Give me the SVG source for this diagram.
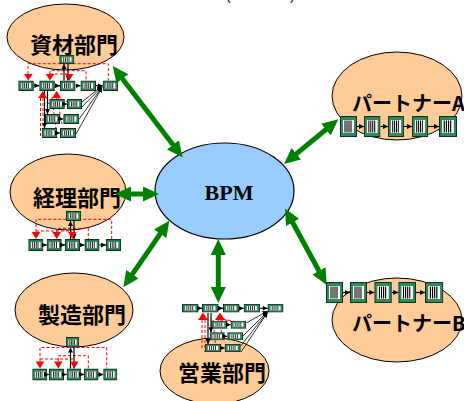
<svg xmlns="http://www.w3.org/2000/svg" xmlns:xlink="http://www.w3.org/1999/xlink" width="464" height="401" viewBox="0 0 464 401">
<style>
.dept{fill:#FFCC99;stroke:#000;stroke-width:1}
.bpm{fill:#99CCFF;stroke:#000;stroke-width:1.2}
.jt{font-family:"Noto Sans CJK JP","Noto Sans CJK SC",sans-serif;font-weight:bold;font-size:22px;fill:#000}
.pt{font-size:20px}
.bt{font-family:"Liberation Serif",serif;font-weight:bold;font-size:22px;fill:#000}
.k{stroke:#000;stroke-width:1.2;fill:none}
.kf{stroke:#000;stroke-width:0.8;fill:none}
.rd{stroke:#FF0000;stroke-width:1;stroke-dasharray:3,2;fill:none}
.rh{fill:#FF0000}
.g{stroke:#008000;stroke-width:5;fill:none}
</style>
<defs>
<symbol id="b" viewBox="0 0 16 10" preserveAspectRatio="none">
<rect x="0.5" y="0.5" width="15" height="9" fill="#2d8a5a" stroke="#0f2e1e"/>
<rect x="3" y="2.5" width="10" height="5" fill="#fff"/>
<path d="M4.7 2.5v5M6.6 2.5v5M8.5 2.5v5M10.4 2.5v5" stroke="#000" stroke-width="0.9"/>
</symbol>
<symbol id="bp" viewBox="0 0 17 21" preserveAspectRatio="none">
<rect x="0.5" y="0.5" width="16" height="20" fill="#2d8a5a" stroke="#0f2e1e"/>
<rect x="3" y="4" width="11" height="13" fill="#fff"/>
<path d="M5 4.5v12M7 4.5v12M9 4.5v12M11 4.5v12" stroke="#000" stroke-width="1.1"/>
</symbol>
<marker id="ka" viewBox="0 0 5 5" refX="5" refY="2.5" markerWidth="5" markerHeight="5" markerUnits="userSpaceOnUse" orient="auto"><path d="M0,0 L5,2.5 L0,5 z" fill="#000"/></marker>
<marker id="g" viewBox="0 0 16 15" refX="6" refY="7.5" markerWidth="16" markerHeight="15" markerUnits="userSpaceOnUse" orient="auto-start-reverse"><path d="M0,0 L16,7.5 L0,15 z" fill="#008000"/></marker>
</defs>

<text x="226" y="0" font-family="Liberation Sans, sans-serif" font-size="14">(<tspan x="290">)</tspan></text>

<g id="bpm">
<ellipse class="bpm" cx="224.5" cy="191" rx="69.5" ry="48"/>
<text class="bt" x="229" y="200" text-anchor="middle">BPM</text>
</g>

<g id="shizai">
<ellipse class="dept" cx="65.5" cy="37" rx="58.5" ry="33"/>
<text class="jt" x="30" y="53">資材部門</text>
<path class="rd" d="M28,74 V63.7 H108.3 V80.5"/>
<path class="rd" d="M50,74 V70.7 H86 V80.5"/>
<path class="rd" d="M50,74 H69.3"/>
<path class="rd" d="M40.5,98 V138 M43,98 V128 M56.7,97 L72,104 M56.7,97 L62,124 M52,97 L57,138 M47,98 L49,104"/>
<use href="#b" x="59.3" y="55" width="15" height="9"/>
<use href="#b" x="18.3" y="80.5" width="15.5" height="10.5"/>
<use href="#b" x="39.3" y="80.5" width="15.5" height="10.5"/>
<use href="#b" x="60" y="80.5" width="15.5" height="10.5"/>
<use href="#b" x="80.5" y="80.5" width="15.5" height="10.5"/>
<use href="#b" x="102.7" y="80.5" width="15.5" height="10.5"/>
<use href="#b" x="49.3" y="99" width="15.5" height="10"/>
<use href="#b" x="67" y="99" width="15" height="10"/>
<use href="#b" x="45" y="114" width="15" height="10"/>
<use href="#b" x="63.3" y="114" width="16" height="10"/>
<use href="#b" x="41.7" y="128" width="15.5" height="10"/>
<use href="#b" x="60" y="128" width="16" height="10"/>
<path class="k" marker-end="url(#ka)" d="M33.8,85.7 H39.3"/>
<path class="k" marker-end="url(#ka)" d="M54.8,85.7 H60"/>
<path class="k" marker-end="url(#ka)" d="M75.5,85.7 H80.5"/>
<path class="k" marker-end="url(#ka)" d="M96,85.7 H102.7"/>
<path class="k" marker-end="url(#ka)" d="M64,80.5 V64"/>
<path class="k" marker-end="url(#ka)" d="M68,64 V80.5"/>
<path class="k" marker-end="url(#ka)" d="M44.5,91 V128"/>
<path class="k" marker-end="url(#ka)" d="M47.5,91 V114"/>
<path class="kf" marker-end="url(#ka)" d="M64.8,104 H67"/>
<path class="kf" marker-end="url(#ka)" d="M60,119 H63.3"/>
<path class="kf" marker-end="url(#ka)" d="M57.2,133 H60"/>
<path class="kf" marker-end="url(#ka)" d="M82,102 L102,86"/>
<path class="kf" marker-end="url(#ka)" d="M82,107 L102,86.5"/>
<path class="kf" marker-end="url(#ka)" d="M79.3,119 L102,87"/>
<path class="kf" marker-end="url(#ka)" d="M76,134 L102,87.5"/>
<path class="rh" d="M24,74 h8.6 l-4.3,6.5 z M45.7,74 h8.6 l-4.3,6.5 z M65,74 h8.6 l-4.3,6.5 z"/>
<path class="rh" d="M38.2,98 h9 l-4.5,-7 z M52.2,98 h9 l-4.5,-7 z"/>
</g>

<g id="keiri">
<ellipse class="dept" cx="68" cy="192" rx="58" ry="38"/>
<text class="jt" x="33" y="206">経理部門</text>
<path class="rd" d="M36,232 V219.3 H111.7 V239"/>
<path class="rd" d="M56.7,232 V228.3 H88.3 V239"/>
<path class="rd" d="M36,231 H72.3"/>
<use href="#b" x="66" y="211" width="15" height="10"/>
<use href="#b" x="28.3" y="239" width="15" height="12"/>
<use href="#b" x="46.7" y="239" width="15" height="12"/>
<use href="#b" x="65" y="239" width="15" height="12"/>
<use href="#b" x="84.5" y="239" width="15" height="12"/>
<use href="#b" x="106" y="239" width="15" height="12"/>
<path class="k" marker-end="url(#ka)" d="M43.3,245 H46.7"/>
<path class="k" marker-end="url(#ka)" d="M61.7,245 H65"/>
<path class="k" marker-end="url(#ka)" d="M80,245 H84.5"/>
<path class="k" marker-end="url(#ka)" d="M99.5,245 H106"/>
<path class="k" marker-end="url(#ka)" d="M70.5,239 V221"/>
<path class="k" marker-end="url(#ka)" d="M74,221 V239"/>
<path class="rh" d="M31.7,232 h8.6 l-4.3,7 z M52.4,232 h8.6 l-4.3,7 z M68,232 h8.6 l-4.3,7 z"/>
</g>

<g id="seizo">
<ellipse class="dept" cx="74" cy="310" rx="59" ry="37"/>
<text class="jt" x="38" y="323">製造部門</text>
<path class="rd" d="M40,361 V347.5 H106.7 V368.5"/>
<path class="rd" d="M58.3,361 V355.7 H88.3 V368.5"/>
<path class="rd" d="M40,359 H74.3"/>
<use href="#b" x="66" y="337" width="13" height="10.5"/>
<use href="#b" x="32.3" y="368.5" width="15" height="12"/>
<use href="#b" x="49" y="368.5" width="15" height="12"/>
<use href="#b" x="66.7" y="368.5" width="14.5" height="12"/>
<use href="#b" x="84" y="368.5" width="14.5" height="12"/>
<use href="#b" x="103.3" y="368.5" width="14" height="12"/>
<path class="k" marker-end="url(#ka)" d="M47.3,374.5 H49"/>
<path class="k" marker-end="url(#ka)" d="M64,374.5 H66.7"/>
<path class="k" marker-end="url(#ka)" d="M81.2,374.5 H84"/>
<path class="k" marker-end="url(#ka)" d="M98.5,374.5 H103.3"/>
<path class="k" marker-end="url(#ka)" d="M70.5,368.5 V347.5"/>
<path class="k" marker-end="url(#ka)" d="M74,347.5 V368.5"/>
<path class="rh" d="M35.7,361.5 h8.6 l-4.3,7 z M54,361.5 h8.6 l-4.3,7 z M70,361.5 h8.6 l-4.3,7 z"/>
</g>

<g id="eigyo">
<ellipse class="dept" cx="214.5" cy="371" rx="54.5" ry="33"/>
<text class="jt" x="178" y="381">営業部門</text>
<path class="rd" d="M205,320 V352 M202,320 V348 M220,320 L231,321.5 M218,320 L224,340 M213,320 L216,350 M223,319 L246,324"/>
<use href="#b" x="182" y="304" width="16.5" height="8.5"/>
<use href="#b" x="202" y="304" width="16.5" height="8.5"/>
<use href="#b" x="223" y="304" width="16.5" height="8.5"/>
<use href="#b" x="243.7" y="304" width="16.5" height="8.5"/>
<use href="#b" x="267.5" y="304" width="16" height="8.5"/>
<use href="#b" x="211.3" y="320.7" width="16" height="8"/>
<use href="#b" x="230.7" y="320.7" width="15.6" height="8"/>
<use href="#b" x="209.7" y="332.3" width="15" height="8"/>
<use href="#b" x="227.3" y="332.3" width="15.7" height="8"/>
<use href="#b" x="204.7" y="344" width="16.6" height="8"/>
<use href="#b" x="224.7" y="344" width="16" height="8"/>
<path class="k" marker-end="url(#ka)" d="M198.5,308.3 H202"/>
<path class="k" marker-end="url(#ka)" d="M218.5,308.3 H223"/>
<path class="k" marker-end="url(#ka)" d="M239.5,308.3 H243.7"/>
<path class="k" marker-end="url(#ka)" d="M260.2,308.3 H267.5"/>
<path class="kf" marker-end="url(#ka)" d="M227.3,324.7 H230.7"/>
<path class="kf" marker-end="url(#ka)" d="M224.7,336.3 H227.3"/>
<path class="kf" marker-end="url(#ka)" d="M221.3,348 H224.7"/>
<path class="k" marker-end="url(#ka)" d="M208,313 V344"/>
<path class="k" marker-end="url(#ka)" d="M211,313 V332.3"/>
<path class="kf" marker-end="url(#ka)" d="M246.3,323 L267.5,311"/>
<path class="kf" marker-end="url(#ka)" d="M243,336 L267.5,311.5"/>
<path class="kf" marker-end="url(#ka)" d="M240.7,346 L267.5,312"/>
<path class="kf" marker-end="url(#ka)" d="M241,352 L267.5,312.5"/>
<path class="rh" d="M198,320 h10 l-5,-7.5 z M215,320 h10 l-5,-7.5 z"/>
</g>

<g id="partnerA">
<ellipse class="dept" cx="397" cy="96" rx="65" ry="44"/>
<text class="jt pt" x="352" y="111">パートナーA</text>
<use href="#bp" x="340" y="116" width="17" height="21"/>
<use href="#bp" x="364" y="116" width="16.5" height="21"/>
<use href="#bp" x="388" y="116" width="16" height="21"/>
<use href="#bp" x="412" y="116" width="16" height="21"/>
<use href="#bp" x="439" y="116" width="18" height="21"/>
<path class="k" marker-end="url(#ka)" d="M357,126.5 H364"/>
<path class="k" marker-end="url(#ka)" d="M380.5,126.5 H388"/>
<path class="k" marker-end="url(#ka)" d="M404,126.5 H412"/>
<path class="k" marker-end="url(#ka)" d="M428,126.5 H439"/>
</g>

<g id="partnerB">
<ellipse class="dept" cx="397" cy="320" rx="65" ry="42"/>
<text class="jt pt" x="352" y="331">パートナーB</text>
<use href="#bp" x="326" y="282" width="17" height="21"/>
<use href="#bp" x="350" y="282" width="17" height="21"/>
<use href="#bp" x="374.3" y="282" width="17.5" height="21"/>
<use href="#bp" x="398.3" y="282" width="17.7" height="21"/>
<use href="#bp" x="425" y="282" width="18.3" height="21"/>
<path class="k" marker-end="url(#ka)" d="M343,292.5 H350"/>
<path class="k" marker-end="url(#ka)" d="M367,292.5 H374.3"/>
<path class="k" marker-end="url(#ka)" d="M391.8,292.5 H398.3"/>
<path class="k" marker-end="url(#ka)" d="M416,292.5 H425"/>
</g>

<g id="connectors">
<line class="g" x1="118.8" y1="73.9" x2="176.6" y2="149.6" marker-start="url(#g)" marker-end="url(#g)"/>
<line class="g" x1="125" y1="194" x2="149" y2="194" marker-start="url(#g)" marker-end="url(#g)"/>
<line class="g" x1="163.6" y1="228.9" x2="129" y2="279.1" marker-start="url(#g)" marker-end="url(#g)"/>
<line class="g" x1="218.3" y1="249" x2="218.3" y2="293" marker-start="url(#g)" marker-end="url(#g)"/>
<line class="g" x1="291.7" y1="157.6" x2="330.6" y2="125.7" marker-start="url(#g)" marker-end="url(#g)"/>
<line class="g" x1="289.8" y1="217.3" x2="321.9" y2="276.2" marker-start="url(#g)" marker-end="url(#g)"/>
</g>
</svg>
